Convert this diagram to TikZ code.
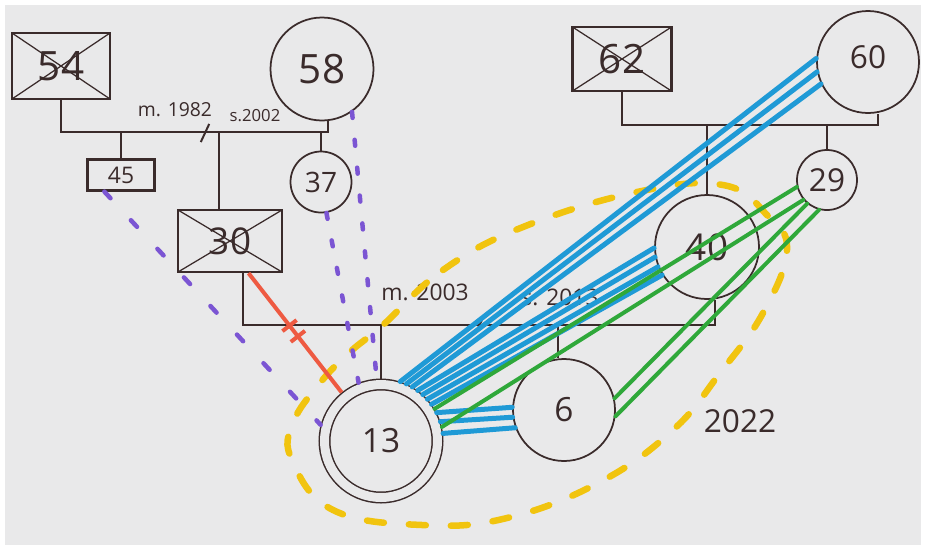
\documentclass[tikz,border=0pt]{standalone}
\usepackage{fontspec}
\setmainfont{Open Sans}
\usetikzlibrary{calc}
\definecolor{ink}{HTML}{3A2B2B}
\definecolor{paper}{HTML}{E9E9EA}
\definecolor{tieblue}{HTML}{1F9AD6}
\definecolor{tiegreen}{HTML}{2FA83A}
\definecolor{tiepurple}{HTML}{7B55D3}
\definecolor{tiered}{HTML}{EE5A42}
\definecolor{tieyellow}{HTML}{F1C40F}
\newcommand{\fsz}[1]{\fontsize{#1}{#1}\selectfont}

\begin{document}
\begin{tikzpicture}[x=0.2mm, y=-0.2mm,
    male/.style={draw=ink, line width=0.45mm, rectangle, inner sep=0pt, text=ink},
    female/.style={draw=ink, line width=0.35mm, circle, inner sep=0pt, text=ink},
    deceased/.style={path picture={\draw[ink, line width=0.25mm]
      (path picture bounding box.north west) -- (path picture bounding box.south east)
      (path picture bounding box.north east) -- (path picture bounding box.south west);}},
    index/.style={female, line width=0.3mm, double=paper, double distance=1.8mm, outer sep=1.2mm},
    kin/.style={draw=ink, line width=0.35mm},
    cut/.style={draw=ink, line width=0.4mm, minimum height=4mm, minimum width=0pt,
      inner sep=0pt, rotate=-25},
    note/.style={text=ink, inner sep=1pt},
    closetie/.style={draw=tieblue, line width=1mm, line cap=round},
    friendtie/.style={draw=tiegreen, line width=0.8mm, line cap=round},
    distanttie/.style={draw=tiepurple, line width=0.9mm, line cap=round,
      dash pattern=on 1.2mm off 4.4mm},
    cutoff/.style={draw=tiered, line width=0.8mm},
    cutmark/.style={draw=tiered, line width=0.8mm, minimum height=3.6mm,
      minimum width=0pt, inner sep=0pt, sloped},
    household/.style={draw=tieyellow, line width=1.3mm, line cap=round,
      dash pattern=on 3.4mm off 5mm}
  ]
    \useasboundingbox (0,0) rectangle (926,550);
    \fill[white] (0,0) rectangle (926,550);
    \fill[paper] (5,5) rectangle (921,545);

    % people
    \node[male, deceased, minimum width=19.6mm, minimum height=13.2mm, font=\fsz{23}] (m54) at (61,66) {54};
    \node[female, minimum size=20.6mm, font=\fsz{23}] (f58) at (322,69) {58};
    \node[male, minimum width=13.4mm, minimum height=6.2mm, font=\fsz{13}] (m45) at (121,175) {45};
    \node[female, minimum size=12.2mm, font=\fsz{16}] (f37) at (321,182) {37};
    \node[male, deceased, minimum width=20.8mm, minimum height=12.4mm, font=\fsz{21}] (m30) at (230,241) {30};
    \node[male, deceased, minimum width=19.8mm, minimum height=12.8mm, font=\fsz{23}] (m62) at (622,59) {62};
    \node[female, minimum size=20.4mm, font=\fsz{18}] (f60) at (868,62) {\raisebox{1.8mm}{60}};
    \node[female, minimum size=12mm, font=\fsz{18}] (f29) at (827,180) {29};
    \node[female, minimum size=20.8mm, font=\fsz{21}] (f40) at (707,247) {40};
    \node[index, minimum size=22.6mm, font=\fsz{19}] (f13) at (381,441) {13};
    \node[female, minimum size=20.4mm, font=\fsz{19}] (f6) at (564,410) {6};

    % unions
    \coordinate (u1) at (219,132);
    \draw[kin] (m54.south) |- (u1) -| ([xshift=1.2mm]f58.south);
    \draw[kin] (u1) -- ([xshift=-2.2mm]m30.north);
    \draw[kin] (m45.north) -- (m45.north |- u1);
    \draw[kin] (f37.north) -- (f37.north |- u1);
    \node[cut] at (205,133) {};
    \node[note, font=\fsz{11}] at (175,110) {m. 1982};
    \node[note, font=\fsz{9.5}] at (255,116) {s.2002};

    \coordinate (u2) at (560,325);
    \draw[kin] ([xshift=2.6mm]m30.south) |- (u2) -| ([xshift=1.6mm]f40.south);
    \draw[kin] (f13.north) -- (f13.north |- u2);
    \draw[kin] ([xshift=-1.2mm]f6.north) -- ([xshift=-1.2mm]f6.north |- u2);
    \node[cut] at (480,324) {};
    \node[note, font=\fsz{13}] at (425,292) {m. 2003};
    \node[note, font=\fsz{13}] at (560,297) {s. 2013};

    \coordinate (u3) at (702,125);
    \draw[kin] (m62.south) |- (u3) -| ([xshift=2mm]f60.south);
    \draw[kin] (f40.north) -- (f40.north |- u3);
    \draw[kin] (f29.north) -- (f29.north |- u3);

    % household
    \draw[household] plot[smooth cycle, tension=0.7] coordinates {(383,325) (443,270) (523,227)
      (637,192) (723,185) (767,215) (787,250) (763,313) (720,373) (673,430) (600,482) (507,518)
      (422,525) (333,510) (292,460) (293,423) (320,383) (350,352)};
    \node[note, font=\fsz{18}] (yr) at (740,421) {2022};

    % ties
    \draw[cutoff] (m30.-60) -- node[cutmark, pos=0.44] {} node[cutmark, pos=0.53] {} (f13.129);
    \draw[distanttie, dash pattern=on 1.8mm off 6mm] (m45.-135) -- (f13.165);
    \draw[distanttie] (f37.-80) -- (f13.111);
    \draw[distanttie] (f58.-55) -- (f13.94);
    \foreach \a/\b in {72/176, 66/191, 60/205}
      \draw[closetie] (f13.\a) -- (f60.\b);
    \foreach \a/\b in {54/181, 48/191, 42/202, 36/212}
      \draw[closetie] (f13.\a) -- (f40.\b);
    \foreach \a/\b in {27/177, 18/188, 7/200}
      \draw[closetie] (f13.\a) -- (f6.\b);
    \draw[friendtie] (f29.193) -- (f13.31);
    \draw[friendtie] (f29.220) -- (f13.13);
    \draw[friendtie] (f29.230) -- (f6.13);
    \draw[friendtie] (f29.255) -- (f6.-7);
  \end{tikzpicture}
\end{document}
